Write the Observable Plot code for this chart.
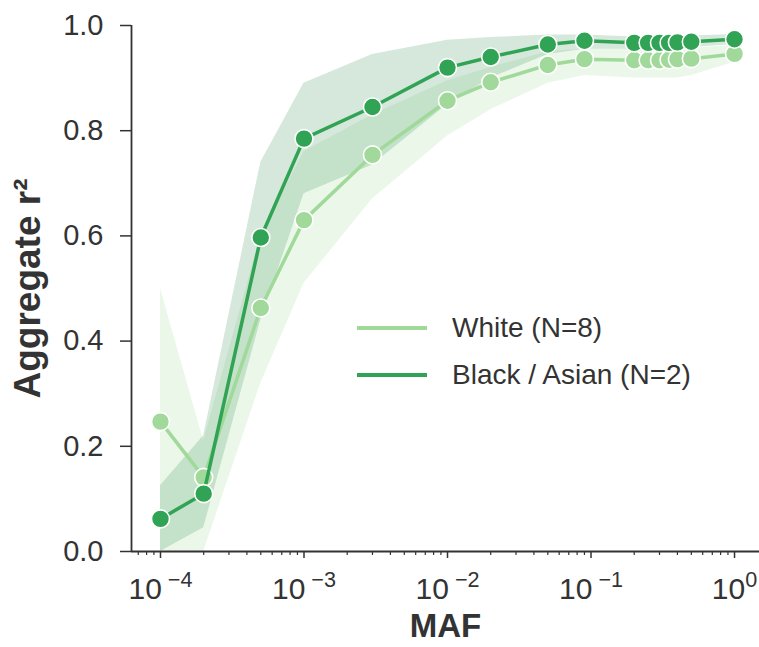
<!DOCTYPE html>
<html>
<head>
<meta charset="utf-8">
<script src="https://cdn.jsdelivr.net/npm/d3@7"></script>
<script src="https://cdn.jsdelivr.net/npm/@observablehq/plot@0.6"></script>
<style>
  html, body { margin: 0; padding: 0; background: #fff; }
  #wrap { position: relative; width: 759px; height: 647px; font-family: "Liberation Sans", Arial, Helvetica, sans-serif; }
  #legend { position: absolute; left: 357px; top: 304px; color: #333; font-size: 28px; }
  .row { display: flex; align-items: center; height: 47px; }
  .swatch { display: inline-block; width: 70px; height: 4px; margin-right: 25px; }
</style>
</head>
<body>
<div id="wrap"></div>
<script>
// ---- data ----
const maf = [0.0001, 0.0002, 0.0005, 0.001, 0.003, 0.01, 0.02, 0.05, 0.09, 0.2, 0.25, 0.3, 0.35, 0.4, 0.5, 1.0];
const whiteR2 = [0.247, 0.141, 0.463, 0.630, 0.754, 0.857, 0.892, 0.925, 0.936, 0.934, 0.934, 0.934, 0.935, 0.936, 0.937, 0.946];
const whiteLo = [0.0, 0.0, 0.32, 0.51, 0.67, 0.79, 0.84, 0.89, 0.905, 0.90, 0.90, 0.90, 0.90, 0.90, 0.905, 0.93];
const whiteHi = [0.50, 0.21, 0.60, 0.76, 0.83, 0.895, 0.92, 0.95, 0.955, 0.955, 0.955, 0.955, 0.955, 0.956, 0.957, 0.962];
const blackR2 = [0.062, 0.110, 0.597, 0.785, 0.845, 0.920, 0.940, 0.964, 0.971, 0.967, 0.967, 0.967, 0.967, 0.968, 0.969, 0.974];
const blackLo = [0.0, 0.045, 0.44, 0.68, 0.735, 0.85, 0.90, 0.945, 0.955, 0.955, 0.955, 0.955, 0.956, 0.957, 0.958, 0.964];
const blackHi = [0.125, 0.22, 0.74, 0.89, 0.945, 0.972, 0.977, 0.982, 0.982, 0.978, 0.978, 0.978, 0.978, 0.979, 0.980, 0.983];
const seriesNames = ["White (N=8)", "Black / Asian (N=2)"];
const seriesColors = ["#a1d99b", "#31a354"];
const yTicks = [0, 0.2, 0.4, 0.6, 0.8, 1.0];
const xMajor = [1e-4, 1e-3, 1e-2, 1e-1, 1e0];
const xLabel = "MAF";
const yLabel = "Aggregate r²";

const toRows = (r2, lo, hi) => maf.map((m, i) => ({maf: m, r2: r2[i], lo: lo[i], hi: hi[i]}));
const white = toRows(whiteR2, whiteLo, whiteHi);
const black = toRows(blackR2, blackLo, blackHi);

const xDomain = [10 ** -4.202, 10 ** 0.174];
const xMinor = [];
for (let e = -5; e <= 0; e++) for (let k = 2; k <= 9; k++) {
  const v = k * 10 ** e;
  if (v >= xDomain[0] && v <= xDomain[1]) xMinor.push(v);
}

const font = "'Liberation Sans', Arial, Helvetica, sans-serif";
const ink = "#333333";

const chart = Plot.plot({
  width: 759,
  height: 647,
  marginLeft: 131,
  marginRight: 0,
  marginTop: 25,
  marginBottom: 96,
  style: {fontFamily: font, color: ink, background: "white"},
  x: {type: "log", domain: xDomain},
  y: {domain: [0, 1]},
  marks: [
    Plot.areaY(white, {x: "maf", y1: "lo", y2: "hi", fill: seriesColors[0], fillOpacity: 0.22, clip: true}),
    Plot.areaY(black, {x: "maf", y1: "lo", y2: "hi", fill: "#2e8b4a", fillOpacity: 0.2, clip: true}),
    Plot.line(white, {x: "maf", y: "r2", stroke: seriesColors[0], strokeWidth: 3.5}),
    Plot.dot(white, {x: "maf", y: "r2", r: 9, fill: seriesColors[0], stroke: "white", strokeWidth: 1.6}),
    Plot.line(black, {x: "maf", y: "r2", stroke: seriesColors[1], strokeWidth: 3.5}),
    Plot.dot(black, {x: "maf", y: "r2", r: 9, fill: seriesColors[1], stroke: "white", strokeWidth: 1.6}),
    Plot.ruleY([0], {stroke: ink, strokeWidth: 1.8}),
    Plot.ruleX([xDomain[0]], {stroke: ink, strokeWidth: 1.8}),
    Plot.axisY({ticks: yTicks, tickFormat: d3.format(".1f"), tickSize: 11, tickPadding: 17, fontSize: 29, label: null, stroke: ink, strokeWidth: 1.5}),
    Plot.axisX({ticks: xMajor, tickFormat: d => "10^" + Math.round(Math.log10(d)), tickSize: 7, tickPadding: 19, fontSize: 30, label: null, stroke: ink, strokeWidth: 1.5}),
    Plot.axisX({ticks: xMinor, tickFormat: () => "", tickSize: 4, label: null, stroke: ink, strokeWidth: 1.2}),
    Plot.text([yLabel], {frameAnchor: "left", textAnchor: "middle", lineAnchor: "middle", dx: -103, rotate: -90, fontSize: 37, fontWeight: "bold", fill: ink}),
    Plot.text([xLabel], {frameAnchor: "bottom", textAnchor: "middle", lineAnchor: "middle", dy: 75, fontSize: 33, fontWeight: "bold", fill: ink})
  ]
});

// render superscript exponents on the x tick labels
d3.select(chart).selectAll('g[aria-label="x-axis tick label"] text').each(function() {
  const t = d3.select(this);
  const s = t.text();
  if (!s.startsWith("10^")) return;
  const exp = s.slice(3);
  t.text("10");
  t.append("tspan")
    .attr("dy", "-0.55em")
    .attr("font-size", "0.72em")
    .text(exp.startsWith("-") ? " \u2212" + exp.slice(1) : exp);
});

const wrap = document.getElementById("wrap");
wrap.appendChild(chart);

const legend = document.createElement("div");
legend.id = "legend";
seriesNames.forEach((name, i) => {
  const row = document.createElement("div");
  row.className = "row";
  const sw = document.createElement("span");
  sw.className = "swatch";
  sw.style.background = seriesColors[i];
  const lab = document.createElement("span");
  lab.textContent = name;
  row.appendChild(sw);
  row.appendChild(lab);
  legend.appendChild(row);
});
wrap.appendChild(legend);
</script>
</body>
</html>
